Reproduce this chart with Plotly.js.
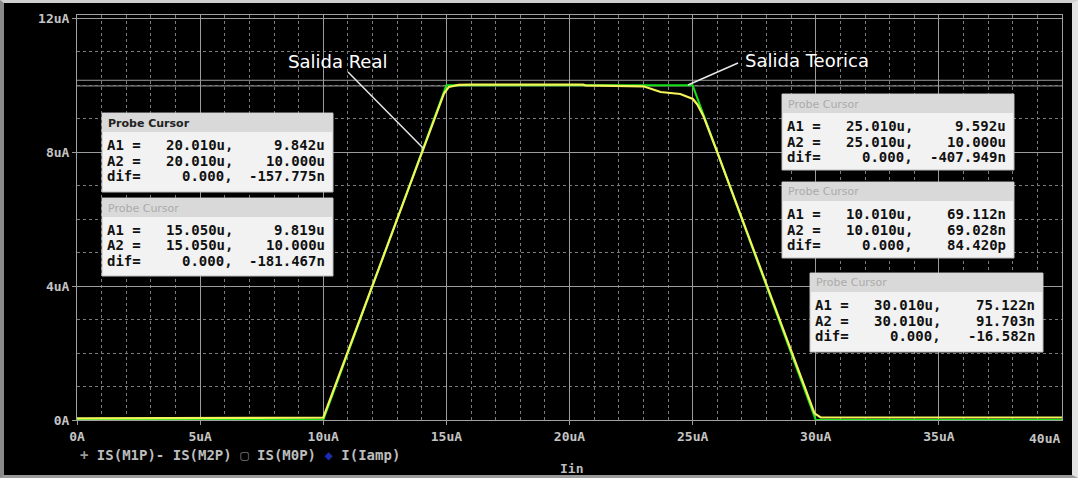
<!DOCTYPE html>
<html><head><meta charset="utf-8">
<script src="https://cdn.plot.ly/plotly-3.0.1.min.js"></script>
<style>
html,body{margin:0;padding:0;background:#000;}
#chart{width:1068px;height:472px;border-left:4px solid #8a8a8a;border-top:3px solid #cfcfcf;border-right:6px solid #e2e2e2;border-bottom:3px solid #9a9a9a;}
</style></head><body><div id="chart"></div>
<script>
// ---- data ----
const iinReal  = [0, 10.0, 14.9, 15.1, 15.5, 16.0, 20.55, 20.65, 23.0, 23.7, 24.5, 24.9, 25.01, 25.2, 25.45, 26.0, 29.95, 30.2, 30.6, 40];
const outReal  = [0.05, 0.07, 9.75, 9.95, 10.01, 10.02, 10.02, 10.0, 9.97, 9.8, 9.74, 9.62, 9.592, 9.42, 9.06, 8.0, 0.2, 0.08, 0.075, 0.075];
const iinTheo  = [0, 10, 15, 25, 30, 40];
const outTheo  = [0, 0, 10, 10, 0, 0];
const cursorLevels = [10.15, 9.98];

const xTickVals = [0, 5, 10, 15, 20, 25, 30, 35, 40];
const xTickText = ['0A', '5uA', '10uA', '15uA', '20uA', '25uA', '30uA', '35uA', '40uA'];
const yTickVals = [0, 4, 8, 12];
const yTickText = ['0A', '4uA', '8uA', '12uA'];

const cursorTitle = 'Probe Cursor';
const cursorA1x  = ['20.010u', '15.050u', '25.010u', '10.010u', '30.010u'];
const cursorA1y  = ['9.842u',  '9.819u',  '9.592u',  '69.112n', '75.122n'];
const cursorA2x  = ['20.010u', '15.050u', '25.010u', '10.010u', '30.010u'];
const cursorA2y  = ['10.000u', '10.000u', '10.000u', '69.028n', '91.703n'];
const cursorDifx = ['0.000',   '0.000',   '0.000',   '0.000',   '0.000'];
const cursorDify = ['-157.775n', '-181.467n', '-407.949n', '84.420p', '-16.582n'];

const labelReal = 'Salida Real';
const labelTheo = 'Salida Teorica';
const legendText = '<span style="color:#9a9a9a">+</span> IS(M1P)- IS(M2P) <span style="color:#777">\u25A2</span> IS(M0P) <span style="color:#1a2cb0">\u25C6</span> I(Iamp)';
const xTitle = 'Iin';

// ---- layout helpers (image pixel -> paper) ----
const PL = 77, PR = 1062, PT = 15, PB = 420;
const px = v => (v - PL) / (PR - PL);
const py = v => (PB - v) / (PB - PT);

const shapes = [];
const annotations = [];

// cursor horizontal lines
cursorLevels.forEach(l => shapes.push({type:'line', xref:'paper', yref:'y', x0:0, x1:1, y0:l, y1:l,
  line:{color:'#9a9a9a', width:1}, layer:'below'}));

// probe cursor boxes
const boxes = [
  {l:102, t:113, r:333, b:192, active:true},
  {l:102, t:198, r:333, b:276, active:false},
  {l:782, t:94,  r:1014, b:170, active:false},
  {l:782, t:182, r:1014, b:258, active:false},
  {l:810, t:273, r:1043, b:352, active:false}
];
const boxFont = {family:'DejaVu Sans Mono', size:14, color:'#111', weight:'bold'};
boxes.forEach((bx, i) => {
  shapes.push({type:'rect', xref:'paper', yref:'paper', x0:px(bx.l), x1:px(bx.r), y0:py(bx.b), y1:py(bx.t),
    fillcolor:'#f2f2f2', line:{color:'#bdbdbd', width:1}, layer:'above'});
  shapes.push({type:'rect', xref:'paper', yref:'paper', x0:px(bx.l+1), x1:px(bx.r-1), y0:py(bx.t+19), y1:py(bx.t+1),
    fillcolor:'#d9d9d9', line:{width:0}, layer:'above'});
  annotations.push({xref:'paper', yref:'paper', x:px(bx.l+4), y:py(bx.t+10), xanchor:'left', yanchor:'middle',
    text:cursorTitle, showarrow:false,
    font:{family:'DejaVu Sans', size:11, color: bx.active ? '#222' : '#ababab', weight: bx.active ? 'bold' : 'normal'}});
  const rows = [
    ['A1 =', cursorA1x[i] + ',', cursorA1y[i]],
    ['A2 =', cursorA2x[i] + ',', cursorA2y[i]],
    ['dif=', cursorDifx[i] + ',', cursorDify[i]]
  ];
  rows.forEach((row, k) => {
    const yy = py(bx.t + 32 + k * 15.5);
    annotations.push({xref:'paper', yref:'paper', x:px(bx.l+3), y:yy, xanchor:'left', yanchor:'middle', text:row[0], showarrow:false, font:boxFont});
    annotations.push({xref:'paper', yref:'paper', x:px(bx.l+133), y:yy, xanchor:'right', yanchor:'middle', text:row[1], showarrow:false, font:boxFont});
    annotations.push({xref:'paper', yref:'paper', x:px(bx.r-6), y:yy, xanchor:'right', yanchor:'middle', text:row[2], showarrow:false, font:boxFont});
  });
});

// callout labels and their leader lines
annotations.push({xref:'paper', yref:'paper', x:px(337), y:py(62), xanchor:'center', yanchor:'middle', text:labelReal, showarrow:false,
  font:{family:'DejaVu Sans', size:18, color:'#ffffff'}});
annotations.push({xref:'paper', yref:'paper', x:px(807), y:py(60), xanchor:'center', yanchor:'middle', text:labelTheo, showarrow:false,
  font:{family:'DejaVu Sans', size:18, color:'#ffffff'}});
shapes.push({type:'line', xref:'paper', yref:'paper', x0:px(348), y0:py(72), x1:px(423), y1:py(148), line:{color:'#e8e8e8', width:1.5}});
shapes.push({type:'line', xref:'paper', yref:'paper', x0:px(738), y0:py(63), x1:px(688), y1:py(85), line:{color:'#e8e8e8', width:1.5}});

const tickFont = {family:'DejaVu Sans Mono', size:13, color:'#c4c4c4', weight:'bold'};

// last x tick label sits left of its tick (kept inside the frame)
annotations.push({xref:'x', yref:'paper', x:xTickVals[xTickVals.length-1], y:py(438), xanchor:'right', yanchor:'middle',
  text:xTickText[xTickText.length-1], showarrow:false, font:tickFont});

// legend line and axis title
annotations.push({xref:'paper', yref:'paper', x:px(78), y:py(455), xanchor:'left', yanchor:'middle', text:legendText, showarrow:false,
  font:{family:'DejaVu Sans Mono', size:14, color:'#bdbdbd', weight:'bold'}});
annotations.push({xref:'paper', yref:'paper', x:px(571), y:py(468), xanchor:'center', yanchor:'middle', text:xTitle, showarrow:false,
  font:{family:'DejaVu Sans Mono', size:13, color:'#bdbdbd', weight:'bold'}});

const traces = [
  {x:iinTheo, y:outTheo, type:'scatter', mode:'lines', line:{color:'#16e016', width:2}, hoverinfo:'skip'},
  {x:iinReal, y:outReal, type:'scatter', mode:'lines', line:{color:'#f4f45a', width:2.2}, hoverinfo:'skip'}
];

const layout = {
  width:1068, height:472,
  margin:{l:73, r:10, t:12, b:55},
  paper_bgcolor:'#000', plot_bgcolor:'#000',
  showlegend:false,
  xaxis:{range:[0,40], tickmode:'array', tickvals:xTickVals.slice(0,-1), ticktext:xTickText.slice(0,-1), tickfont:tickFont,
    showgrid:true, gridcolor:'#9c9c9c', gridwidth:1, zeroline:false,
    showline:true, linecolor:'#a0a0a0', linewidth:1, mirror:true,
    ticks:'outside', ticklen:4, tickcolor:'#9a9a9a',
    minor:{tickmode:'linear', tick0:0, dtick:1, showgrid:true, gridcolor:'#7c7c7c', griddash:'dot', gridwidth:1}},
  yaxis:{range:[0,12.1], tickmode:'array', tickvals:yTickVals, ticktext:yTickText, tickfont:tickFont,
    showgrid:true, gridcolor:'#9c9c9c', gridwidth:1, zeroline:false,
    showline:true, linecolor:'#a0a0a0', linewidth:1, mirror:true,
    ticks:'outside', ticklen:4, tickcolor:'#9a9a9a',
    minor:{tickmode:'linear', tick0:0, dtick:1, showgrid:true, gridcolor:'#7c7c7c', griddash:'dot', gridwidth:1}},
  shapes:shapes,
  annotations:annotations
};

Plotly.newPlot('chart', traces, layout, {staticPlot:true, displayModeBar:false});
</script>
</body></html>
